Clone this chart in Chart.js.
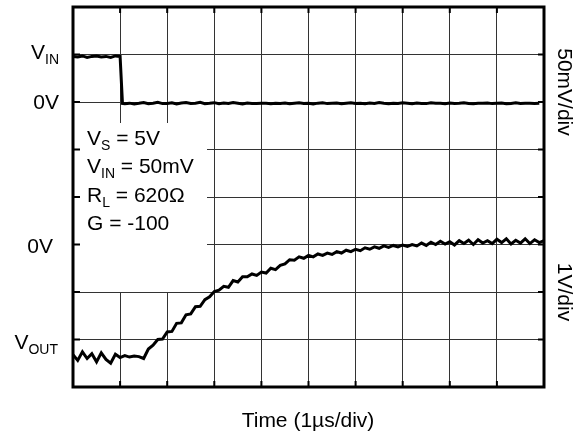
<!DOCTYPE html>
<html>
<head>
<meta charset="utf-8">
<script src="https://cdn.jsdelivr.net/npm/chart.js@4"></script>
<style>
  body { margin: 0; background: #fff; }
  canvas { display: block; }
</style>
</head>
<body>
<canvas id="scope" width="582" height="435"></canvas>
<script>
// time base, 1us/div
const timeUs = [0, 0.1, 0.2, 0.3, 0.4, 0.5, 0.6, 0.7, 0.8, 0.9,
  1.0, 1.1, 1.2, 1.3, 1.4, 1.5, 1.6, 1.7, 1.8, 1.9,
  2.0, 2.1, 2.2, 2.3, 2.4, 2.5, 2.6, 2.7, 2.8, 2.9,
  3.0, 3.1, 3.2, 3.3, 3.4, 3.5, 3.6, 3.7, 3.8, 3.9,
  4.0, 4.1, 4.2, 4.3, 4.4, 4.5, 4.6, 4.7, 4.8, 4.9,
  5.0, 5.1, 5.2, 5.3, 5.4, 5.5, 5.6, 5.7, 5.8, 5.9,
  6.0, 6.1, 6.2, 6.3, 6.4, 6.5, 6.6, 6.7, 6.8, 6.9,
  7.0, 7.1, 7.2, 7.3, 7.4, 7.5, 7.6, 7.7, 7.8, 7.9,
  8.0, 8.1, 8.2, 8.3, 8.4, 8.5, 8.6, 8.7, 8.8, 8.9,
  9.0, 9.1, 9.2, 9.3, 9.4, 9.5, 9.6, 9.7, 9.8, 9.9, 10.0];

// output, volts (1V/div)
const voutV = [-2.32, -2.44, -2.26, -2.40, -2.30, -2.47, -2.28, -2.42, -2.50, -2.31,
  -2.38, -2.34, -2.37, -2.35, -2.36, -2.40, -2.20, -2.12, -2.00, -1.99,
  -1.84, -1.83, -1.66, -1.65, -1.48, -1.46, -1.31, -1.30, -1.16, -1.10,
  -0.99, -0.96, -0.88, -0.90, -0.76, -0.79, -0.68, -0.68, -0.62, -0.65,
  -0.58, -0.60, -0.50, -0.53, -0.44, -0.41, -0.32, -0.33, -0.26, -0.29,
  -0.23, -0.26, -0.20, -0.23, -0.18, -0.21, -0.15, -0.18, -0.12, -0.15,
  -0.10, -0.13, -0.07, -0.10, -0.05, -0.08, -0.03, -0.06, -0.02, -0.05,
  -0.01, -0.04, 0.00, -0.03, 0.03, -0.02, 0.05, 0.00, 0.07, 0.01,
  0.06, -0.01, 0.08, 0.02, 0.09, 0.00, 0.10, 0.03, 0.08, 0.02,
  0.11, 0.04, 0.12, 0.01, 0.09, 0.03, 0.12, 0.02, 0.10, 0.04, 0.08];

// input step, mV (50mV/div)
const vinTime = [0, 0.1, 0.2, 0.3, 0.4, 0.5, 0.6, 0.7, 0.8, 0.9, 1.0, 1.05,
  1.1, 1.2, 1.3, 1.4, 1.5, 1.6, 1.7, 1.8, 1.9,
  2.0, 2.1, 2.2, 2.3, 2.4, 2.5, 2.6, 2.7, 2.8, 2.9,
  3.0, 3.1, 3.2, 3.3, 3.4, 3.5, 3.6, 3.7, 3.8, 3.9,
  4.0, 4.1, 4.2, 4.3, 4.4, 4.5, 4.6, 4.7, 4.8, 4.9,
  5.0, 5.1, 5.2, 5.3, 5.4, 5.5, 5.6, 5.7, 5.8, 5.9,
  6.0, 6.1, 6.2, 6.3, 6.4, 6.5, 6.6, 6.7, 6.8, 6.9,
  7.0, 7.1, 7.2, 7.3, 7.4, 7.5, 7.6, 7.7, 7.8, 7.9,
  8.0, 8.1, 8.2, 8.3, 8.4, 8.5, 8.6, 8.7, 8.8, 8.9,
  9.0, 9.1, 9.2, 9.3, 9.4, 9.5, 9.6, 9.7, 9.8, 9.9, 10.0];
const vinMv = [48, 47.5, 48.5, 47, 48, 48.5, 47.5, 48, 47, 48.5, 48, -1.5,
  -1.8, -1.2, -2.0, -1.4, -0.6, -1.9, -1.3, -0.4, -1.7,
  -1.5, -0.8, -2.0, -1.1, -0.5, -1.6, -1.2, -0.3, -1.8,
  -1.4, -0.7, -1.9, -1.0, -1.6, -0.6, -1.3, -2.0, -1.1, -1.5,
  -1.7, -1.2, -1.4, -1.8, -1.3, -1.5, -1.1, -1.9, -1.4, -0.8,
  -1.6, -1.3, -2.0, -1.2, -0.9, -1.7, -1.4, -1.1, -1.9, -1.3,
  -0.7, -1.6, -1.2, -1.8, -1.0, -1.5, -0.6, -1.4, -1.9, -1.2,
  -1.6, -0.9, -1.3, -1.8, -1.1, -1.5, -1.7, -0.8, -1.4, -1.2,
  -1.9, -1.0, -1.6, -1.3, -0.7, -1.5, -1.8, -1.2, -1.4, -1.0,
  -1.7, -1.3, -1.1, -1.8, -1.5, -0.9, -1.6, -1.2, -1.4, -1.6, -1.3];

const FONT = '"Liberation Sans", Arial, sans-serif';

function pairs(xs, ys) {
  return xs.map((x, i) => ({ x: x, y: ys[i] }));
}

// text with an optional subscript
function subText(ctx, x, y, main, sub, align) {
  ctx.font = '21px ' + FONT;
  const w1 = ctx.measureText(main).width;
  ctx.font = '14px ' + FONT;
  const w2 = sub ? ctx.measureText(sub).width : 0;
  let x0 = align === 'right' ? x - w1 - w2 : x;
  ctx.textAlign = 'left';
  ctx.font = '21px ' + FONT;
  ctx.fillText(main, x0, y);
  if (sub) {
    ctx.font = '14px ' + FONT;
    ctx.fillText(sub, x0 + w1, y + 5);
  }
  return x0 + w1 + w2;
}

const scopePlugin = {
  id: 'scope',
  beforeDatasetsDraw(chart) {
    const ctx = chart.ctx;
    const a = chart.chartArea;
    const yIn = chart.scales.yIn;
    // white legend box covering the grid
    ctx.save();
    ctx.fillStyle = '#fff';
    ctx.fillRect(a.left, 123, 207 - a.left, yIn.getPixelForValue(-200) - 123);
    ctx.fillStyle = '#000';
    ctx.textBaseline = 'alphabetic';
    let x = subText(ctx, 87, 145, 'V', 'S', 'left');
    ctx.font = '21px ' + FONT;
    ctx.fillText(' = 5V', x, 145);
    x = subText(ctx, 87, 173, 'V', 'IN', 'left');
    ctx.font = '21px ' + FONT;
    ctx.fillText(' = 50mV', x, 173);
    x = subText(ctx, 87, 202, 'R', 'L', 'left');
    ctx.font = '21px ' + FONT;
    ctx.fillText(' = 620\u03A9', x, 202);
    ctx.fillText('G = -100', 87, 230);
    ctx.restore();
  },
  afterDraw(chart) {
    const ctx = chart.ctx;
    const a = chart.chartArea;
    const xs = chart.scales.x;
    const yIn = chart.scales.yIn;
    const yOut = chart.scales.yOut;
    ctx.save();
    // small ticks on the frame
    ctx.strokeStyle = '#000';
    ctx.lineWidth = 2;
    ctx.beginPath();
    xs.ticks.forEach(t => {
      const px = xs.getPixelForValue(t.value);
      ctx.moveTo(px, a.bottom); ctx.lineTo(px, a.bottom - 6);
      ctx.moveTo(px, a.top); ctx.lineTo(px, a.top + 6);
    });
    yIn.ticks.forEach(t => {
      const py = yIn.getPixelForValue(t.value);
      ctx.moveTo(a.left, py); ctx.lineTo(a.left + 7, py);
      ctx.moveTo(a.right, py); ctx.lineTo(a.right - 6, py);
    });
    ctx.stroke();
    // frame
    ctx.lineWidth = 3;
    ctx.strokeRect(a.left, a.top, a.right - a.left, a.bottom - a.top);

    ctx.fillStyle = '#000';
    ctx.textBaseline = 'alphabetic';
    subText(ctx, 59, yIn.getPixelForValue(50) + 4, 'V', 'IN', 'right');
    subText(ctx, 59, yIn.getPixelForValue(0) + 7, '0V', '', 'right');
    subText(ctx, 53, yOut.getPixelForValue(0) + 8, '0V', '', 'right');
    subText(ctx, 58, yOut.getPixelForValue(-2) + 9, 'V', 'OUT', 'right');

    ctx.font = '21px ' + FONT;
    ctx.textAlign = 'center';
    ctx.fillText('Time (1\u00B5s/div)', 308, 427);

    ctx.textBaseline = 'middle';
    ctx.translate(564, 92);
    ctx.rotate(Math.PI / 2);
    ctx.fillText('50mV/div', 0, 0);
    ctx.rotate(-Math.PI / 2);
    ctx.translate(0, 200);
    ctx.rotate(Math.PI / 2);
    ctx.fillText('1V/div', 0, 0);
    ctx.restore();
  }
};

const ctx = document.getElementById('scope').getContext('2d');
new Chart(ctx, {
  type: 'line',
  data: {
    datasets: [{
      label: 'VIN',
      data: pairs(vinTime, vinMv),
      yAxisID: 'yIn',
      borderColor: '#000',
      borderWidth: 3,
      pointRadius: 0,
      tension: 0
    }, {
      label: 'VOUT',
      data: pairs(timeUs, voutV),
      yAxisID: 'yOut',
      borderColor: '#000',
      borderWidth: 3,
      pointRadius: 0,
      tension: 0
    }]
  },
  options: {
    responsive: false,
    animation: false,
    layout: { padding: { left: 73, top: 7, right: 38, bottom: 48 } },
    plugins: {
      legend: { display: false },
      tooltip: { enabled: false }
    },
    scales: {
      x: {
        type: 'linear',
        min: 0,
        max: 10,
        ticks: { display: false, stepSize: 1 },
        grid: { color: '#333', lineWidth: 1, drawTicks: false },
        border: { display: false }
      },
      yIn: {
        type: 'linear',
        position: 'left',
        min: -300,
        max: 100,
        ticks: { display: false, stepSize: 50 },
        grid: { color: '#333', lineWidth: 1, drawTicks: false },
        border: { display: false }
      },
      yOut: {
        type: 'linear',
        position: 'right',
        min: -3,
        max: 5,
        display: false
      }
    }
  },
  plugins: [scopePlugin]
});
</script>
</body>
</html>
